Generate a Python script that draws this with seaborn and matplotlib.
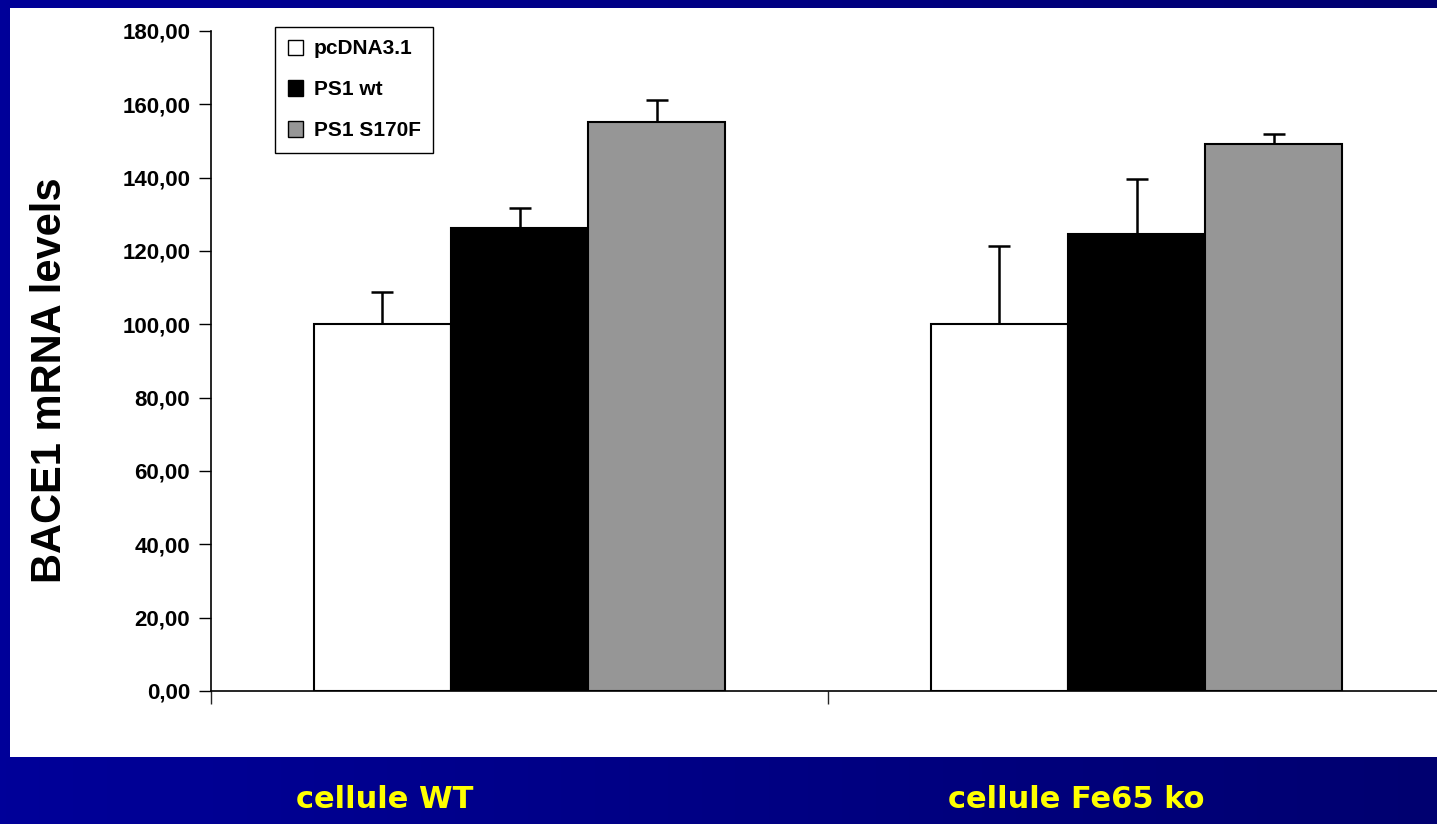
import numpy as np
import pandas as pd
import matplotlib
matplotlib.use("Agg")
import matplotlib.pyplot as plt
from matplotlib.patches import Rectangle
from matplotlib.ticker import FuncFormatter
import seaborn as sns

# data
cells = ["cellule WT", "cellule Fe65 ko"]
constructs = ["pcDNA3.1", "PS1 wt", "PS1 S170F"]
values_wt = [100.0, 126.3, 155.3]
values_ko = [100.0, 124.6, 149.3]
errors_wt = [8.8, 5.4, 5.8]
errors_ko = [21.3, 15.0, 2.5]
colors = ["#ffffff", "#000000", "#969696"]

df = pd.DataFrame({
    "cell": [cells[0]] * 3 + [cells[1]] * 3,
    "construct": constructs * 2,
    "value": values_wt + values_ko,
    "err": errors_wt + errors_ko,
})

sns.set_style("white")
plt.rcParams["font.family"] = ["Liberation Sans", "DejaVu Sans"]
plt.rcParams["text.color"] = "black"

fig = plt.figure(figsize=(14.37, 8.24), dpi=100)

# blue slide background with a soft left-to-right gradient
bg = fig.add_axes([0, 0, 1, 1], zorder=-10)
grad = np.linspace(0, 1, 256).reshape(1, -1)
cmap = matplotlib.colors.LinearSegmentedColormap.from_list("slide", ["#000099", "#000070"])
bg.imshow(grad, aspect="auto", cmap=cmap, extent=[0, 1, 0, 1])
bg.set_axis_off()

# white chart area
fig.patches.append(Rectangle((10 / 1437, 1 - 757 / 824), 1 - 10 / 1437, (757 - 8) / 824,
                             transform=fig.transFigure, facecolor="white",
                             edgecolor="none", zorder=-5))

ax = fig.add_axes([211 / 1437, 1 - 691 / 824, (1445 - 211) / 1437, (691 - 31) / 824])
ax.patch.set_alpha(0)

sns.barplot(data=df, x="cell", y="value", hue="construct", hue_order=constructs,
            order=cells, palette=colors, width=2 / 3, gap=0, errorbar=None,
            edgecolor="black", linewidth=1.5, saturation=1, ax=ax)

# upper-only error bars, Excel style
for cont, lvl in zip(ax.containers, constructs):
    errs = df[df["construct"] == lvl].set_index("cell").loc[cells, "err"].values
    for bar, e in zip(cont, errs):
        xc = bar.get_x() + bar.get_width() / 2
        h = bar.get_height()
        _, caps, _ = ax.errorbar(xc, h, yerr=[[0], [e]], fmt="none", ecolor="black",
                                 elinewidth=1.8, capsize=8, capthick=1.8, zorder=5)
        caps[0].set_visible(False)

ax.set_ylim(0, 180)
ax.set_xlim(-0.5, 1.5)
ax.set_yticks(np.arange(0, 181, 20))
ax.yaxis.set_major_formatter(FuncFormatter(lambda v, p: f"{v:.2f}".replace(".", ",")))
ax.set_xticks([-0.5, 0.5, 1.5])
ax.set_xticklabels([])
ax.set_xlabel("")
ax.set_ylabel("")
ax.tick_params(axis="y", direction="out", length=9, width=1, left=True,
               labelsize=16, pad=6, colors="black")
ax.tick_params(axis="x", direction="out", length=9, width=1, bottom=True)
for lab in ax.get_yticklabels():
    lab.set_fontweight("bold")
sns.despine(ax=ax, top=True, right=True)
ax.spines["left"].set_color("black")
ax.spines["bottom"].set_color("black")
ax.spines["left"].set_linewidth(1.2)
ax.spines["bottom"].set_linewidth(1.2)

fig.text(50 / 1437, 1 - 380 / 824, "BACE1 mRNA levels", rotation=90, ha="center",
         va="center", fontsize=30, fontweight="bold", color="black")

leg = ax.legend(loc="upper left", bbox_to_anchor=(275 / 1437, 1 - 27 / 824),
                bbox_transform=fig.transFigure, borderaxespad=0, frameon=True,
                fancybox=False, edgecolor="black", framealpha=1, handlelength=0.75,
                handleheight=0.75, handletextpad=0.5, labelspacing=1.05, borderpad=0.6,
                prop={"size": 15, "weight": "bold"})
leg.get_frame().set_linewidth(1.0)
for t in leg.get_texts():
    t.set_color("black")
for h in leg.legend_handles:
    h.set_edgecolor("black")
    h.set_linewidth(1.0)

# category labels on the blue band
fig.text(385 / 1437, 1 - 800 / 824, cells[0], ha="center", va="center",
         fontsize=22, fontweight="bold", color="#ffff00", family="DejaVu Sans")
fig.text(1076 / 1437, 1 - 800 / 824, cells[1], ha="center", va="center",
         fontsize=22, fontweight="bold", color="#ffff00", family="DejaVu Sans")

fig.savefig("out.png", dpi=100)
